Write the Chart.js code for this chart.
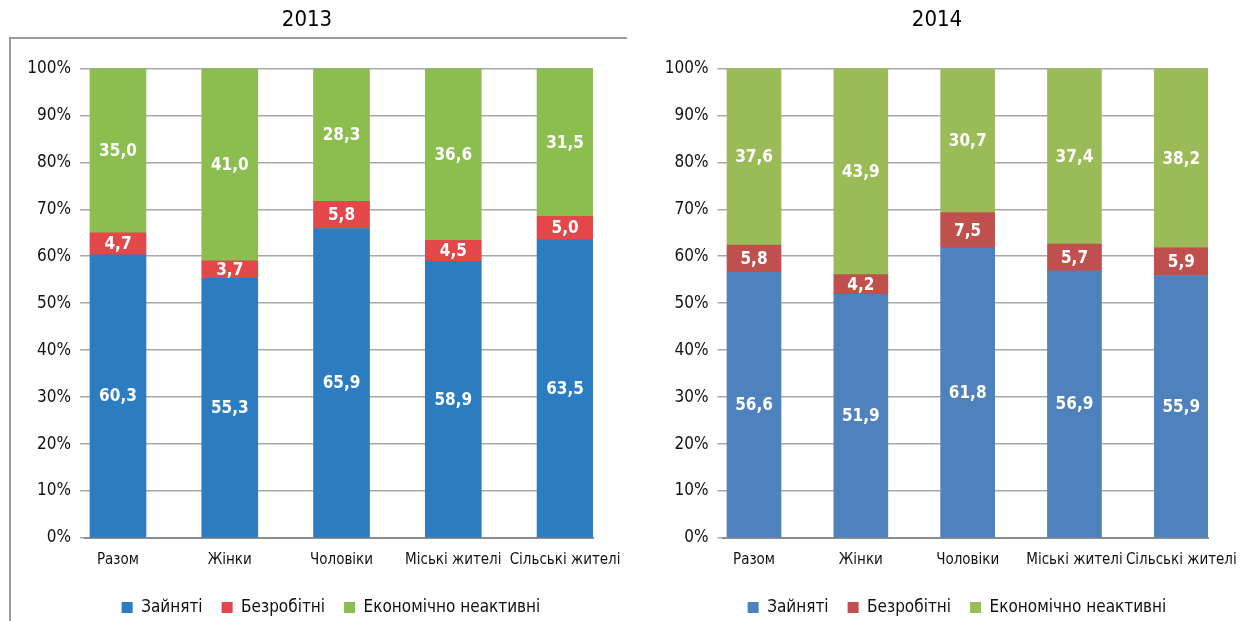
<!DOCTYPE html>
<html><head><meta charset="utf-8">
<script src="https://cdn.jsdelivr.net/npm/chart.js@4.4.1/dist/chart.umd.min.js"></script>
<style>
html,body{margin:0;padding:0;background:#fff;overflow:hidden;width:1242px;height:621px;position:relative;}
.wrap{position:absolute;top:0;height:626px;}
#frame{position:absolute;left:9px;top:37px;width:616px;height:600px;border-top:2px solid #9b9b9b;border-left:2px solid #9b9b9b;}
</style></head><body>
<div id="frame"></div>
<div class="wrap" style="left:0;width:640px"><canvas id="c1"></canvas></div>
<div class="wrap" style="left:640px;width:602px"><canvas id="c2"></canvas></div>
<script>
const categories = ['Разом', 'Жінки', 'Чоловіки', 'Міські жителі', 'Сільські жителі'];
const seriesNames = ['Зайняті', 'Безробітні', 'Економічно неактивні'];
const yTickLabels = ['0%', '10%', '20%', '30%', '40%', '50%', '60%', '70%', '80%', '90%', '100%'];

const employed2013   = [60.3, 55.3, 65.9, 58.9, 63.5];
const unemployed2013 = [4.7, 3.7, 5.8, 4.5, 5.0];
const inactive2013   = [35.0, 41.0, 28.3, 36.6, 31.5];

const employed2014   = [56.6, 51.9, 61.8, 56.9, 55.9];
const unemployed2014 = [5.8, 4.2, 7.5, 5.7, 5.9];
const inactive2014   = [37.6, 43.9, 30.7, 37.4, 38.2];

const F = "'Liberation Sans Narrow', 'Arial Narrow', 'DejaVu Sans Condensed', 'Liberation Sans', sans-serif";

const valueLabels = {
  id: 'valueLabels',
  afterDatasetsDraw(chart) {
    const ctx = chart.ctx;
    ctx.save();
    ctx.fillStyle = '#ffffff';
    ctx.font = 'bold 17px ' + F;
    ctx.textAlign = 'center';
    ctx.textBaseline = 'middle';
    chart.data.datasets.forEach((ds, i) => {
      const meta = chart.getDatasetMeta(i);
      meta.data.forEach((el, j) => {
        const p = el.getProps(['x', 'y', 'base'], true);
        const v = ds.data[j].y;
        ctx.fillText(v.toFixed(1).replace('.', ','), p.x, (p.y + p.base) / 2 + 1);
      });
    });
    ctx.restore();
  }
};

// re-centre the title and legend boxes (x positions relative to the canvas)
const boxCentering = {
  id: 'boxCentering',
  afterLayout(chart, args, opts) {
    const t = chart.titleBlock, l = chart.legend;
    if (t) { const dx = opts.titleCenter - (t.left + t.right) / 2; t.left += dx; t.right += dx; }
    if (l) { const dx = opts.legendCenter - (l.left + l.right) / 2; l.left += dx; l.right += dx; }
  }
};

function toPoints(arr) { return arr.map((v, i) => ({x: i, y: v})); }

function makeChart(id, title, series, colors, barThickness, yAxisWidth, rightPad, titleCenter, legendCenter) {
  return new Chart(document.getElementById(id), {
    type: 'bar',
    data: {
      datasets: series.map((arr, k) => ({
        label: seriesNames[k],
        data: toPoints(arr),
        backgroundColor: colors[k],
        borderWidth: 0,
        barThickness: barThickness
      }))
    },
    options: {
      responsive: true,
      maintainAspectRatio: false,
      animation: false,
      layout: {padding: {left: 0, right: rightPad, top: 0, bottom: 0}},
      plugins: {
        title: {display: true, text: title, color: '#000', font: {family: F, size: 22, weight: 'normal'}, padding: {top: 7, bottom: 35}},
        legend: {position: 'bottom',
          labels: {boxWidth: 11, boxHeight: 11, padding: 19, color: '#111', font: {family: F, size: 17}}},
        tooltip: {enabled: false},
        boxCentering: {titleCenter: titleCenter, legendCenter: legendCenter}
      },
      scales: {
        x: {
          type: 'linear', min: -0.295, max: 4.25, stacked: true, offset: false,
          grid: {display: false, drawTicks: false},
          border: {display: true, color: '#8c8c8c', width: 2},
          ticks: {stepSize: 1, includeBounds: false, autoSkip: false, maxRotation: 0, padding: 13,
            color: '#111', font: {family: F, size: 15},
            callback: (v) => Number.isInteger(v) ? categories[v] : ''},
          afterFit: (s) => { s.height = 42; s.paddingLeft = 0; s.paddingRight = 0; }
        },
        y: {
          stacked: true, min: 0, max: 100,
          grid: {color: '#a8a8a8', lineWidth: 1.5, tickLength: 5},
          border: {display: false},
          ticks: {stepSize: 10, padding: 9, color: '#111', font: {family: F, size: 17},
            callback: (v) => yTickLabels[Math.round(v / 10)]},
          afterFit: (s) => { s.width = yAxisWidth; }
        }
      }
    },
    plugins: [valueLabels, boxCentering]
  });
}

makeChart('c1', '2013', [employed2013, unemployed2013, inactive2013],
  ['#2b7cc1', '#e2474a', '#8cbe4f'], 56, 85, 47, 307, 331);
makeChart('c2', '2014', [employed2014, unemployed2014, inactive2014],
  ['#4f81bd', '#c0504d', '#9bbb59'], 54, 82.5, 34, 297, 317);
</script>
</body></html>
